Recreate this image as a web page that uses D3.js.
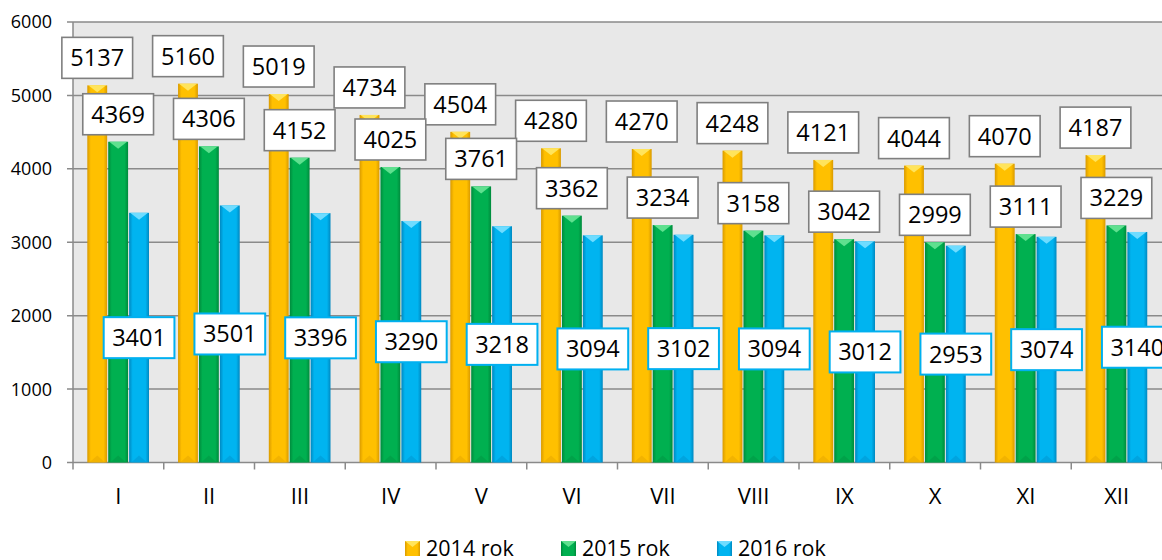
<!DOCTYPE html>
<html><head><meta charset="utf-8">
<script src="https://cdn.jsdelivr.net/npm/d3@7"></script>
<style>html,body{margin:0;padding:0;background:#fff;overflow:hidden}svg{display:block}</style>
</head><body><svg id="c" width="1162" height="560"></svg>
<script>
const months = ["I","II","III","IV","V","VI","VII","VIII","IX","X","XI","XII"];
const seriesNames = ["2014 rok","2015 rok","2016 rok"];
const v2014 = [5137,5160,5019,4734,4504,4280,4270,4248,4121,4044,4070,4187];
const v2015 = [4369,4306,4152,4025,3761,3362,3234,3158,3042,2999,3111,3229];
const v2016 = [3401,3501,3396,3290,3218,3094,3102,3094,3012,2953,3074,3140];
const yTicks = [0,1000,2000,3000,4000,5000,6000];

const values = [v2014, v2015, v2016];
const colors = [
  {main:"#ffc000", dark:"#d99a00", light:"#ffe45c", border:"#7f7f7f"},
  {main:"#00b050", dark:"#008a3c", light:"#5fe08f", border:"#7f7f7f"},
  {main:"#00b4f0", dark:"#0088c0", light:"#6fdcff", border:"#00b0f0"}
];

const svg = d3.select("#c");
const font = "'Open Sans', 'Noto Sans', sans-serif";
const pL = 73, pR = 1162, pT = 22, pB = 462.5;

const y = d3.scaleLinear().domain([0,6000]).range([pB, pT]);
const x0 = d3.scaleBand().domain(months).range([pL, pR]);
const x1 = d3.scaleBand().domain([0,1,2]).range([14.3, 76]).paddingInner(0.05);

const defs = svg.append("defs");
colors.forEach((c,i)=>{
  const g = defs.append("linearGradient").attr("id","g"+i).attr("x1","0").attr("x2","1").attr("y1","0").attr("y2","0");
  g.append("stop").attr("offset","0").attr("stop-color",c.dark);
  g.append("stop").attr("offset","0.18").attr("stop-color",c.main);
  g.append("stop").attr("offset","0.82").attr("stop-color",c.main);
  g.append("stop").attr("offset","1").attr("stop-color",c.dark);
});

// plot background
svg.append("rect").attr("x",pL).attr("y",pT).attr("width",pR-pL).attr("height",pB-pT).attr("fill","#e8e8e8");

// gridlines + y ticks
svg.append("g").selectAll("line").data(yTicks).join("line")
  .attr("x1",pL-6).attr("x2",pR).attr("y1",d=>y(d)).attr("y2",d=>y(d))
  .attr("stroke","#8a8a8a").attr("stroke-width",1.5);
svg.append("line").attr("x1",pL).attr("x2",pL).attr("y1",pT).attr("y2",pB)
  .attr("stroke","#8a8a8a").attr("stroke-width",1.5);
svg.append("g").selectAll("text").data(yTicks).join("text")
  .attr("x",52).attr("y",d=>y(d)).attr("dy","0.36em").attr("text-anchor","end")
  .attr("font-family",font).attr("font-size",18).attr("fill","#000").text(d=>d);

// x ticks
const xTickPos = months.map(m=>x0(m)).concat([pR]);
svg.append("g").selectAll("line").data(xTickPos).join("line")
  .attr("x1",d=>d).attr("x2",d=>d).attr("y1",pB).attr("y2",pB+7)
  .attr("stroke","#8a8a8a").attr("stroke-width",1.5);
svg.append("g").selectAll("text").data(months).join("text")
  .attr("x",d=>x0(d)+x0.bandwidth()/2).attr("y",504).attr("text-anchor","middle")
  .attr("font-family",font).attr("font-size",22).attr("fill","#000").text(d=>d);

// bars
const bw = x1.bandwidth();
values.forEach((arr,si)=>{
  const g = svg.append("g");
  arr.forEach((v,mi)=>{
    const bx = x0(months[mi]) + x1(si);
    const by = y(v);
    g.append("rect").attr("x",bx).attr("y",by).attr("width",bw).attr("height",pB-by).attr("fill","url(#g"+si+")");
    g.append("path").attr("d",`M${bx+1},${by}L${bx+bw-1},${by}L${bx+bw/2},${by+7}Z`).attr("fill",colors[si].light);
    g.append("path").attr("d",`M${bx+2},${pB}L${bx+bw-2},${pB}L${bx+bw/2},${pB-7}Z`).attr("fill",colors[si].dark).attr("opacity",0.35);
  });
});

// labels
function label(g, cx, cy, txt, border, bwid){
  const r = g.append("rect");
  const t = g.append("text").attr("x",cx).attr("y",cy).attr("dy","0.36em").attr("text-anchor","middle")
    .attr("font-family",font).attr("font-size",23.5).attr("fill","#000").text(txt);
  const w = t.node().getComputedTextLength() + 17;
  r.attr("x",cx-w/2).attr("y",cy-20.5).attr("width",w).attr("height",41)
    .attr("fill","#fff").attr("stroke",border).attr("stroke-width",bwid);
}
values.forEach((arr,si)=>{
  arr.forEach((v,mi)=>{
    const g = svg.append("g");
    const cx = x0(months[mi]) + x1(si) + bw/2;
    const cy = si < 2 ? y(v) - 7 - 20.5 : y(v/2);
    label(g, cx, cy, v, colors[si].border, si<2?1.6:2);
  });
});

// legend
const legX = [405, 561, 717];
seriesNames.forEach((n,i)=>{
  const g = svg.append("g");
  g.append("rect").attr("x",legX[i]).attr("y",541).attr("width",15).attr("height",15).attr("fill","url(#g"+i+")");
  g.append("path").attr("d",`M${legX[i]},541L${legX[i]+15},541L${legX[i]+7.5},547Z`).attr("fill",colors[i].light);
  g.append("text").attr("x",legX[i]+21).attr("y",555.5).attr("font-family",font).attr("font-size",21.5).attr("fill","#000").text(n);
});
</script></body></html>
